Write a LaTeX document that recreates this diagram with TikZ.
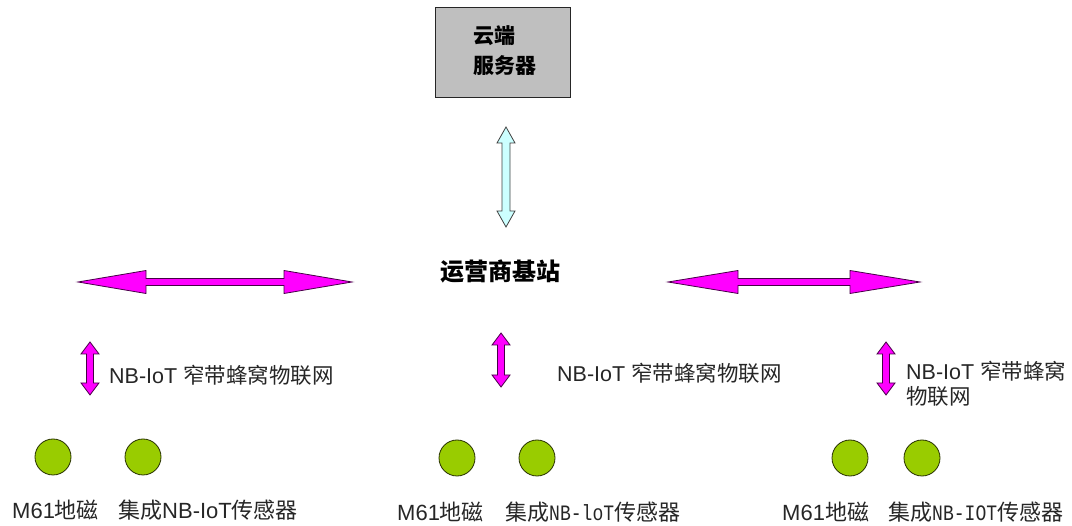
\documentclass[tikz,border=0pt]{standalone}
\usepackage{fontspec}
\setmainfont{Liberation Sans}
\newfontfamily\cjk{Noto Sans CJK SC}
\newfontfamily\smono[FakeStretch=0.82]{Liberation Mono}
\definecolor{magfill}{RGB}{255,0,255}
\definecolor{magline}{RGB}{70,0,70}
\definecolor{cyanfill}{RGB}{204,255,255}
\definecolor{greenfill}{RGB}{153,204,0}
\definecolor{greenline}{RGB}{40,50,0}
\newcommand{\hdarrow}[7]{%
\draw[#1] (#2,#4) -- ({#2+#7},{#4-#6}) -- ({#2+#7},{#4-#5}) -- ({#3-#7},{#4-#5}) -- ({#3-#7},{#4-#6}) -- (#3,#4) -- ({#3-#7},{#4+#6}) -- ({#3-#7},{#4+#5}) -- ({#2+#7},{#4+#5}) -- ({#2+#7},{#4+#6}) -- cycle;}
\newcommand{\vdarrow}[7]{%
\draw[#1] (#4,#2) -- ({#4-#6},{#2+#7}) -- ({#4-#5},{#2+#7}) -- ({#4-#5},{#3-#7}) -- ({#4-#6},{#3-#7}) -- (#4,#3) -- ({#4+#6},{#3-#7}) -- ({#4+#5},{#3-#7}) -- ({#4+#5},{#2+#7}) -- ({#4+#6},{#2+#7}) -- cycle;}
\tikzset{
  magarrow/.style={fill=magfill, draw=magline, line width=0.8pt, line join=miter},
  cyanarrow/.style={fill=cyanfill, draw=black!75, line width=0.8pt},
  sensor/.style={circle, minimum size=36pt, inner sep=0pt, fill=greenfill, draw=greenline, line width=0.8pt},
  lbl/.style={anchor=west, inner sep=0pt, text=black!85, font=\fontsize{21.5}{25}\selectfont},
  blbl/.style={anchor=west, inner sep=0pt, text=black!85, font=\fontsize{22}{25}\selectfont},
}
\begin{document}
\begin{tikzpicture}[x=1pt,y=-1pt]
\useasboundingbox (0,0) rectangle (1072,526);
% server
\node[draw=black!85, fill=black!25, line width=1pt, minimum width=135pt, minimum height=90pt, inner sep=0pt] (srvbox) at (502.5,53) {};
\node[align=left, font=\cjk\bfseries\fontsize{21}{30}\selectfont, inner sep=0pt] (srv) at (505,51) {云端\\服务器};
% base station
\node[font=\cjk\bfseries\fontsize{24}{28}\selectfont, inner sep=0pt] (bs) at (500,271) {运营商基站};
% cyan arrow
\vdarrow{cyanarrow}{127}{227}{506}{4}{9}{16}
% horizontal magenta arrows
\hdarrow{magarrow}{78}{352}{282}{3.5}{11.5}{68}
\hdarrow{magarrow}{668}{920}{282}{3.5}{11.5}{70}
% small vertical arrows
\vdarrow{magarrow}{342}{395}{90}{3.5}{9}{12}
\vdarrow{magarrow}{333}{387}{501}{3.5}{9}{12}
\vdarrow{magarrow}{342}{395}{886}{3.5}{9}{12}
% NB labels
\node[lbl] (nb1) at (109,375) {NB-IoT {\cjk 窄带蜂窝物联网}};
\node[lbl] (nb2) at (557,373) {NB-IoT {\cjk 窄带蜂窝物联网}};
\node[lbl, anchor=north west, align=left, font=\fontsize{21.5}{25}\selectfont] (nb3) at (906,361) {NB-IoT {\cjk 窄带蜂窝}\\{\cjk 物联网}};
% sensors
\node[sensor] (c1) at (53,457) {};
\node[sensor] (c2) at (143,457) {};
\node[sensor] (c3) at (457,458) {};
\node[sensor] (c4) at (537,458) {};
\node[sensor] (c5) at (850,458) {};
\node[sensor] (c6) at (922,458) {};
% bottom labels
\node[blbl] (m1) at (12,510) {M61{\cjk 地磁}};
\node[blbl] (s1) at (118,510) {{\cjk 集成}NB-IoT{\cjk 传感器}};
\node[blbl] (m2) at (397,512) {M61{\cjk 地磁}};
\node[blbl] (s2) at (505,512) {{\cjk 集成}{\smono\fontsize{22}{25}\selectfont NB-loT}{\cjk 传感器}};
\node[blbl] (m3) at (782,512) {M61{\cjk 地磁}};
\node[blbl] (s3) at (888,512) {{\cjk 集成}{\smono\fontsize{22}{25}\selectfont NB-IOT}{\cjk 传感器}};
\end{tikzpicture}
\end{document}
